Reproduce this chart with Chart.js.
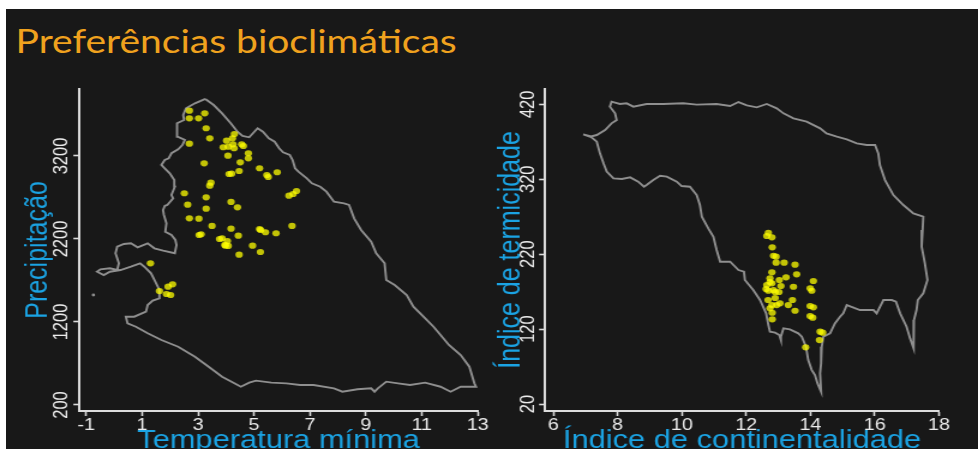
<!DOCTYPE html>
<html>
<head>
<meta charset="utf-8">
<script src="https://cdn.jsdelivr.net/npm/chart.js@4.4.1/dist/chart.umd.min.js"></script>
<style>
  html, body { margin: 0; padding: 0; background: #ffffff; width: 978px; height: 453px; overflow: hidden; }
  #stage { position: absolute; left: 0; top: 0; width: 815px; height: 453px; transform: scaleX(1.2); transform-origin: 0 0; }
  #panel { position: absolute; left: 5px; top: 9px; width: 810px; height: 440px; background: #181818; overflow: hidden; }
  #title { position: absolute; left: 8px; top: 15px; margin: 0; font-family: Lato, "Noto Sans", sans-serif; font-weight: 400; font-size: 32.5px; line-height: 33px; color: #f0a21e; white-space: nowrap; }
  canvas { position: absolute; }
</style>
</head>
<body>
<div id="stage">
  <div id="panel">
    <div id="title">Preferências bioclimáticas</div>
    <canvas id="left" width="405" height="376" style="left:0px;top:71px;width:405px;height:376px"></canvas>
    <canvas id="right" width="400" height="376" style="left:395px;top:71px;width:400px;height:376px"></canvas>
  </div>
</div>
<script>
// ---- Occurrences: minimum temperature (°C) vs precipitation (mm)
const occTemp = [2.69, 2.69, 3.02, 3.24, 3.29, 3.42, 2.69, 4.30, 4.23, 4.02, 4.25, 3.90, 4.08, 4.29, 4.56, 4.62,
  4.80, 4.80, 4.07, 4.51, 3.22, 5.20, 4.47, 4.20, 4.11, 5.46, 5.51, 5.83, 3.46, 3.42, 2.51, 3.29, 2.63, 4.18,
  4.41, 3.29, 6.52, 6.40, 6.25, 2.69, 3.03, 3.50, 4.18, 3.04, 3.11, 4.44, 3.77, 4.05, 3.98, 4.08, 5.20, 5.24,
  5.41, 5.79, 6.36, 4.95, 5.23, 4.47, 3.86, 3.96, 1.30, 2.09, 1.93, 1.62, 1.87, 2.02];
const occPrecip = [3746, 3654, 3654, 3714, 3534, 3413, 3348, 3465, 3413, 3384, 3341, 3305, 3312, 3293, 3341, 3320,
  3233, 3172, 3204, 3124, 3112, 3052, 3019, 2987, 2983, 2971, 2947, 3004, 2878, 2842, 2751, 2702, 2613, 2646,
  2582, 2565, 2778, 2742, 2722, 2449, 2445, 2357, 2324, 2248, 2257, 2240, 2200, 2176, 2119, 2116, 2320, 2308,
  2281, 2269, 2357, 2119, 2043, 2011, 2208, 2128, 1907, 1654, 1625, 1573, 1537, 1525];

// ---- Regional climate envelope: minimum temperature vs precipitation
const envTemp = [3.26, 3.56, 3.86, 4.17, 4.41, 4.59, 4.83, 5.13, 5.32, 5.53, 5.74, 5.90, 6.04, 6.28, 6.38, 6.47,
  6.59, 6.89, 7.07, 7.37, 7.59, 7.86, 8.22, 8.40, 8.58, 8.83, 9.19, 9.37, 9.67, 9.73, 10.03, 10.46, 10.70, 11.06,
  11.42, 11.67, 11.97, 12.39, 12.70, 12.88, 12.94, 12.39, 12.03, 11.67, 11.12, 10.58, 10.15, 9.73, 9.43, 9.31,
  9.19, 8.70, 8.16, 7.86, 7.13, 6.65, 6.16, 5.62, 5.07, 4.83, 4.53, 4.35, 3.86, 3.38, 2.89, 2.29, 1.69, 1.20,
  0.78, 0.48, 0.42, 0.72, 1.14, 1.20, 1.38, 1.62, 1.62, 1.44, 1.32, 1.08, 0.93, 0.60, 0.23, -0.15, -0.37, -0.61,
  -0.49, -0.15, 0.11, 0.17, 0.05, 0.11, 0.35, 0.60, 0.84, 1.20, 1.44, 1.75, 2.17, 2.23, 2.19, 2.05, 1.83, 1.87,
  1.78, 1.75, 1.81, 1.90, 2.11, 2.05, 2.17, 2.15, 1.99, 1.81, 1.69, 1.81, 1.95, 2.05, 2.29, 2.44, 2.53, 2.27,
  2.23, 2.27, 2.50, 2.47, 2.57, 2.89];
const envPrecip = [3887, 3814, 3714, 3594, 3493, 3441, 3425, 3534, 3493, 3413, 3372, 3293, 3245, 3212, 3152, 3052,
  3011, 2931, 2871, 2830, 2770, 2649, 2630, 2610, 2449, 2308, 2167, 2028, 1907, 1706, 1646, 1525, 1384, 1264,
  1143, 1043, 923, 802, 661, 461, 420, 420, 360, 420, 469, 441, 461, 481, 401, 360,
  401, 389, 360, 401, 441, 441, 461, 469, 493, 469, 420, 453, 541, 661, 782, 902, 983, 1064,
  1143, 1184, 1264, 1264, 1324, 1405, 1457, 1486, 1586, 1706, 1787, 1866, 1907, 1866, 1826, 1806, 1766, 1806,
  1835, 1847, 1826, 1907, 2028, 2107, 2140, 2148, 2100, 2148, 2088, 2059, 2028, 2128, 2188, 2248, 2288, 2389,
  2489, 2549, 2598, 2610, 2690, 2730, 2830, 2911, 2991, 3052, 3092, 3152, 3172, 3233, 3281, 3332, 3393, 3432,
  3513, 3594, 3634, 3694, 3775, 3835];
const strayTemp = [-0.74];
const strayPrecip = [1525];

// ---- Occurrences: continentality index vs thermicity index
const occCont = [12.69, 12.64, 12.80, 12.81, 12.85, 12.93, 12.93, 13.18, 13.52, 12.80, 13.57, 12.74, 13.03, 13.24,
  14.09, 12.64, 12.80, 13.08, 13.47, 13.99, 14.04, 12.69, 12.85, 13.44, 12.80, 12.95, 12.74, 13.05, 13.31, 13.52,
  13.99, 14.09, 13.99, 14.07, 12.81, 12.81, 14.30, 14.38, 14.28, 13.85, 12.90, 12.62, 13.02, 12.74, 12.68, 12.90];
const occTerm = [248.6, 244.2, 242.5, 229.1, 217.9, 216.6, 208.6, 208.6, 205.9, 195.8, 193.1, 187.8, 185.5, 189.1,
  184.2, 178.8, 181.1, 177.5, 176.5, 174.4, 171.2, 171.2, 172.1, 158.8, 152.1, 152.1, 147.7, 154.4, 152.1, 144.5,
  150.8, 149.1, 137.4, 135.2, 141.8, 133.0, 116.5, 115.2, 105.4, 95.7, 169.5, 173.5, 169.5, 182.8, 158.8, 161.5];

// ---- Regional climate envelope: continentality vs thermicity
const envCont = [6.93, 7.14, 7.35, 7.61, 7.81, 7.97, 7.92, 7.76, 7.81, 8.07, 8.28, 8.49, 8.90, 9.42, 10.04, 10.46,
  11.08, 11.50, 11.76, 12.02, 12.33, 12.64, 12.95, 13.16, 13.47, 13.88, 14.30, 14.50, 14.82, 15.13, 15.44, 15.75,
  16.01, 16.11, 16.16, 16.32, 16.58, 16.89, 17.20, 17.51, 17.49, 17.46, 17.56, 17.64, 17.51, 17.34, 17.30, 17.22,
  17.20, 17.22, 17.10, 16.99, 16.79, 16.66, 16.53, 16.27, 16.11, 16.06, 15.96, 15.54, 15.13, 15.02, 14.92, 14.76,
  14.61, 14.40, 14.35, 14.33, 14.30, 14.33, 14.22, 14.14, 14.04, 13.93, 13.86, 13.73, 13.62, 13.36, 13.16, 13.08,
  13.08, 13.03, 12.90, 12.74, 12.69, 12.62, 12.43, 12.22, 11.96, 11.93, 11.76, 11.50, 11.19, 11.08, 10.98, 10.82,
  10.62, 10.56, 10.46, 10.25, 9.99, 9.84, 9.53, 9.32, 9.11, 8.90, 8.82, 8.64, 8.39, 8.13, 7.87, 7.66, 7.56, 7.45,
  7.35, 7.14];
const envTerm = [379.9, 376.8, 379.0, 385.7, 394.6, 399.0, 407.9, 416.8, 423.5, 420.4, 421.3, 416.8, 420.4, 420.4,
  421.3, 419.5, 420.4, 417.7, 423.0, 418.6, 415.9, 420.4, 414.6, 407.9, 401.2, 396.8, 387.9, 381.2, 376.8, 373.2,
  367.9, 365.6, 365.6, 354.5, 339.0, 318.9, 298.9, 285.6, 274.4, 270.0, 252.2, 230.0, 207.7, 185.5, 167.7, 158.8,
  145.4, 132.1, 114.3, 94.3, 107.6, 123.2, 141.0, 156.6, 158.8, 158.8, 145.4, 141.0, 145.4, 145.4, 152.1, 141.0,
  136.5, 127.6, 114.3, 109.8, 96.5, 74.2, 60.9, 36.4, 47.5, 58.7, 65.3, 78.7, 96.5, 109.8, 114.3, 119.6, 121.0,
  109.8, 105.4, 112.1, 115.2, 116.5, 125.4, 141.0, 158.8, 172.1, 185.5, 196.6, 198.8, 209.9, 209.9, 225.5, 243.3,
  254.4, 270.0, 285.6, 298.9, 310.0, 310.9, 316.7, 323.4, 324.7, 318.9, 312.3, 310.0, 316.7, 322.5, 320.3, 321.2,
  330.1, 341.2, 354.5, 370.1, 377.7];

// ---- Axis ticks
const tempTicks = [-1, 1, 3, 5, 7, 9, 11, 13];
const precipTicks = [200, 1200, 2200, 3200];
const contTicks = [6, 8, 10, 12, 14, 16, 18];
const termTicks = [20, 120, 220, 320, 420];

const FONT = "'Liberation Sans', Arial, Helvetica, sans-serif";
const AXIS_TEXT = '#ececec';
const AXIS_LINE = '#dcdcdc';
const TITLE_BLUE = '#1ba3e3';
const ENVELOPE = '#8f8f8f';
const OCCURRENCE = 'rgba(255, 255, 0, 0.74)';

function pairs(xs, ys) { return xs.map((x, i) => ({ x: x, y: ys[i] })); }
function ring(xs, ys) { const p = pairs(xs, ys); p.push(p[0]); return p; }

function fixedSize(size) {
  return function (scale) {
    if (scale.isHorizontal()) scale.height = size; else scale.width = size;
    scale.paddingLeft = scale.paddingRight = scale.paddingTop = scale.paddingBottom = 0;
  };
}
function tickValues(values) {
  return function (scale) { scale.ticks = values.map(v => ({ value: v })); };
}

function axis(opts) {
  const vertical = opts.vertical;
  return {
    type: 'linear',
    min: opts.min,
    max: opts.max,
    afterBuildTicks: tickValues(opts.ticks),
    afterFit: fixedSize(opts.size),
    grid: { display: true, drawOnChartArea: false, drawTicks: true, tickLength: 5, tickWidth: 1.6, tickColor: AXIS_LINE },
    border: { display: true, color: AXIS_LINE, width: 2 },
    ticks: vertical ? {
      color: AXIS_TEXT, font: { family: FONT, size: 16.5 }, autoSkip: false,
      minRotation: 90, maxRotation: 90, crossAlign: 'center', padding: opts.tickPad,
      callback: v => String(v)
    } : {
      color: AXIS_TEXT, font: { family: FONT, size: 16.5 }, autoSkip: false,
      minRotation: 0, maxRotation: 0, padding: opts.tickPad,
      callback: v => String(v)
    },
    title: {
      display: true, text: opts.title, color: TITLE_BLUE,
      font: { family: FONT, size: vertical ? 25 : 25.7 }, padding: opts.titlePad
    }
  };
}

function panel(canvasId, cfg) {
  const datasets = [
    {
      label: 'occurrences', data: pairs(cfg.ox, cfg.oy),
      pointRadius: 3.1, pointBackgroundColor: OCCURRENCE, pointBorderWidth: 0, showLine: false
    },
    {
      label: 'envelope', data: ring(cfg.ex, cfg.ey),
      showLine: true, borderColor: ENVELOPE, borderWidth: 1.9, pointRadius: 0, fill: false, tension: 0
    }
  ];
  if (cfg.sx) {
    datasets.push({
      label: 'isolated', data: pairs(cfg.sx, cfg.sy),
      pointRadius: 1.4, pointBackgroundColor: ENVELOPE, pointBorderWidth: 0, showLine: false
    });
  }
  return new Chart(document.getElementById(canvasId), {
    type: 'scatter',
    data: { datasets: datasets },
    options: {
      responsive: false,
      animation: false,
      devicePixelRatio: 1,
      layout: { padding: cfg.padding },
      plugins: { legend: { display: false }, tooltip: { enabled: false }, title: { display: false } },
      scales: { x: cfg.x, y: cfg.y }
    }
  });
}

panel('left', {
  ox: occTemp, oy: occPrecip, ex: envTemp, ey: envPrecip, sx: strayTemp, sy: strayPrecip,
  padding: { left: 0, right: 11.9, top: 9, bottom: 0 },
  x: axis({ min: -1.243, max: 13, ticks: tempTicks, size: 45, tickPad: 0, title: 'Temperatura mínima', titlePad: { top: 0, bottom: 0 } }),
  y: axis({ vertical: true, min: 127.7, max: 4007, ticks: precipTicks, size: 61.1, tickPad: -9.2, title: 'Precipitação', titlePad: { top: 11.7, bottom: 0 } })
});

panel('right', {
  ox: occCont, oy: occTerm, ex: envCont, ey: envTerm,
  padding: { left: 0, right: 17.5, top: 9, bottom: 0 },
  x: axis({ min: 5.742, max: 18, ticks: contTicks, size: 45, tickPad: 0, title: 'Índice de continentalidade', titlePad: { top: 0, bottom: 0 } }),
  y: axis({ vertical: true, min: 10.7, max: 440.4, ticks: termTicks, size: 54.2, tickPad: -4.8, title: 'Índice de termicidade', titlePad: { top: 10.8, bottom: 0 } })
});
</script>
</body>
</html>
